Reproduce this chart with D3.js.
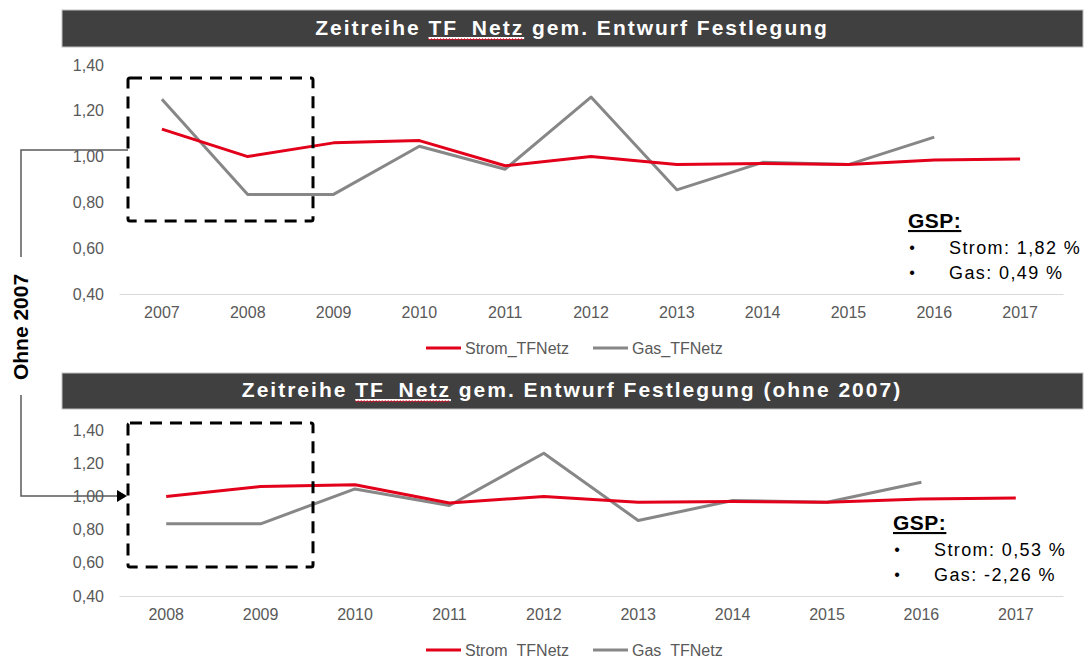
<!DOCTYPE html>
<html>
<head>
<meta charset="utf-8">
<script src="https://cdn.jsdelivr.net/npm/d3@7"></script>
<style>
  body { margin: 0; background: #fff; }
  svg { display: block; font-family: "Liberation Sans", Arial, sans-serif; }
</style>
</head>
<body>
<svg width="1086" height="657"></svg>
<script>
// data
var years = [2007, 2008, 2009, 2010, 2011, 2012, 2013, 2014, 2015, 2016, 2017];
var strom = [1.12, 1.00, 1.06, 1.07, 0.96, 1.00, 0.965, 0.97, 0.965, 0.985, 0.99];
var gas = [1.25, 0.835, 0.835, 1.045, 0.945, 1.26, 0.855, 0.975, 0.965, 1.085, null];
var yTicks = [0.4, 0.6, 0.8, 1.0, 1.2, 1.4];
var seriesNames = ["Strom_TFNetz", "Gas_TFNetz"];
var gspTop = ["Strom: 1,82 %", "Gas: 0,49 %"];
var gspBottom = ["Strom: 0,53 %", "Gas: -2,26 %"];

var red = "#e2001a", grey = "#878787";
var svg = d3.select("svg");
var fmt = function(v) { return d3.format(".2f")(v).replace(".", ","); };

function drawPanel(p) {
    // title bar
    svg.append("rect")
        .attr("x", 62).attr("y", p.barY).attr("width", 1021).attr("height", p.barH)
        .attr("fill", "#404040").attr("stroke", "#bfbfbf");

    let title = svg.append("text")
        .attr("x", 572).attr("y", p.titleY)
        .attr("text-anchor", "middle")
        .attr("fill", "#fff").style("font-weight", "bold").style("font-size", "21px")
        .style("letter-spacing", "2px");
    title.append("tspan").text("Zeitreihe ");
    title.append("tspan").text("TF_Netz").style("text-decoration", "underline");
    title.append("tspan").text(p.titleRest);

    // red squiggle under TF_Netz
    let node = title.node();
    let sx = node.getStartPositionOfChar(10).x, ex = node.getEndPositionOfChar(16).x;
    let pts = [];
    for (let xx = sx, i = 0; xx <= ex; xx += 1.5, i++) pts.push([xx, p.titleY + 4 + (i % 2 ? 1 : -0.3)]);
    svg.append("path").attr("d", d3.line()(pts)).attr("fill", "none")
        .attr("stroke", "#e2001a").attr("stroke-width", 1);

    // scales
    let data = p.yrs.map((yr) => {
        let i = years.indexOf(yr);
        return { year: yr, strom: strom[i], gas: gas[i] };
    });
    let x = d3.scaleBand().domain(p.yrs).range([119, 1063]);
    let y = d3.scaleLinear().domain([0.4, 1.4]).range([p.y0, p.y1]);

    let ax = svg.append("g")
        .attr("transform", "translate(0," + p.y0 + ")")
        .call(d3.axisBottom(x).tickSize(0).tickSizeOuter(0).tickPadding(13));
    ax.select(".domain").attr("stroke", "#d9d9d9");
    ax.selectAll("text").attr("fill", "#595959").style("font-size", "16px").style("font-family", "Liberation Sans, Arial");

    let ay = svg.append("g")
        .attr("transform", "translate(104,0)")
        .call(d3.axisLeft(y).tickValues(yTicks).tickFormat(fmt).tickSize(0).tickPadding(0));
    ay.select(".domain").remove();
    ay.selectAll("text").attr("fill", "#595959").style("font-size", "16px").style("font-family", "Liberation Sans, Arial");

    // lines
    let line = (key) => d3.line()
        .defined((d) => d[key] != null)
        .x((d) => x(d.year) + x.bandwidth() / 2)
        .y((d) => y(d[key]));

    svg.append("path").datum(data).attr("d", line("gas"))
        .attr("fill", "none").attr("stroke", grey).attr("stroke-width", 3).attr("stroke-linejoin", "round");
    svg.append("path").datum(data).attr("d", line("strom"))
        .attr("fill", "none").attr("stroke", red).attr("stroke-width", 3).attr("stroke-linejoin", "round");

    // dashed box
    svg.append("rect")
        .attr("x", p.box[0]).attr("y", p.box[1])
        .attr("width", p.box[2] - p.box[0]).attr("height", p.box[3] - p.box[1])
        .attr("rx", 2)
        .attr("fill", "none").attr("stroke", "#000").attr("stroke-width", 3)
        .attr("stroke-dasharray", "12,8");

    // legend
    let lg = svg.append("g").attr("transform", "translate(0," + p.legendY + ")");
    [[426, red], [593, grey]].forEach((l, i) => {
        lg.append("line").attr("x1", l[0]).attr("x2", l[0] + 35)
            .attr("stroke", l[1]).attr("stroke-width", 3);
        lg.append("text").attr("x", l[0] + 39).attr("y", 6)
            .attr("fill", "#595959").style("font-size", "16px")
            .text(seriesNames[i]);
    });

    // GSP note
    svg.append("text").attr("x", p.gsp[0]).attr("y", p.gsp[1])
        .style("font-weight", "bold").style("font-size", "21px")
        .style("text-decoration", "underline").style("letter-spacing", "0.5px")
        .attr("fill", "#000").text("GSP:");
    p.gspLines.forEach((t, i) => {
        let yy = p.gsp[1] + 26 + i * 25;
        svg.append("text").attr("x", p.gsp[0] + 4).attr("y", yy - 1)
            .attr("text-anchor", "middle").style("font-size", "16px").text("•");
        svg.append("text").attr("x", p.gsp[0] + 41).attr("y", yy)
            .style("font-size", "18px").style("letter-spacing", "1.4px")
            .attr("fill", "#000").text(t);
    });
}

drawPanel({
    yrs: years, barY: 10, barH: 37, titleY: 35, titleRest: " gem. Entwurf Festlegung",
    y0: 294, y1: 65, box: [128, 78, 313, 221], legendY: 348,
    gsp: [908, 228], gspLines: gspTop
});
drawPanel({
    yrs: years.slice(1), barY: 373, barH: 36, titleY: 397, titleRest: " gem. Entwurf Festlegung (ohne 2007)",
    y0: 596, y1: 430, box: [128, 423, 313, 567], legendY: 650,
    gsp: [893, 530], gspLines: gspBottom
});

// "Ohne 2007" connector
svg.append("path")
    .attr("d", "M128,150H21V257M21,395V496H118")
    .attr("fill", "none").attr("stroke", "#595959").attr("stroke-width", 1.5);
svg.append("path")
    .attr("d", "M117,490L127,496L117,502Z").attr("fill", "#000");
svg.append("text")
    .attr("transform", "translate(27.5,327) rotate(-90)")
    .attr("text-anchor", "middle")
    .style("font-weight", "bold").style("font-size", "21px")
    .text("Ohne 2007");
</script>
</body>
</html>
